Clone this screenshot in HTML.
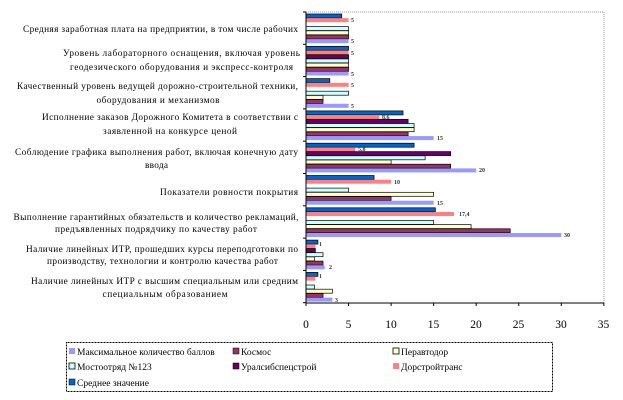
<!DOCTYPE html>
<html><head><meta charset="utf-8"><style>
html,body{margin:0;padding:0;background:#fff;width:623px;height:400px;overflow:hidden}
svg text{font-family:"Liberation Serif","DejaVu Serif",serif}
.c{font-size:9.3px;fill:#000}
.d{font-size:6px;fill:#333;font-weight:bold}
.t{font-size:11.5px;fill:#000}
.l{font-size:9.5px;fill:#000}
</style></head><body>
<svg id="s" width="623" height="400" xmlns="http://www.w3.org/2000/svg">
<rect x="306" y="12" width="298" height="291" fill="#fff" stroke="#999" stroke-dasharray="1,1"/>
<g id="bars"></g>
<line x1="306" y1="12" x2="306" y2="303" stroke="#000"/>
<line x1="306" y1="303" x2="604" y2="303" stroke="#000"/>
<g id="ticks" stroke="#000"></g>
<g class="c" text-anchor="middle" lengthAdjust="spacingAndGlyphs">
<text x="160.5" y="32" textLength="275">Средняя заработная плата на предприятии, в том  числе рабочих</text>
<text x="181.5" y="56" textLength="237">Уровень лабораторного оснащения, включая уровень</text>
<text x="181.5" y="70" textLength="223">геодезического оборудования и экспресс-контроля</text>
<text x="157.5" y="89" textLength="281">Качественный уровень ведущей дорожно-строительной техники,</text>
<text x="158" y="103" textLength="123">оборудования и механизмов</text>
<text x="170" y="120" textLength="256">Исполнение заказов Дорожного Комитета в соответствии с</text>
<text x="170" y="134" textLength="134">заявленной на конкурсе ценой</text>
<text x="156.5" y="155" textLength="283">Соблюдение графика выполнения работ, включая конечную дату</text>
<text x="156.5" y="168" textLength="23">ввода</text>
<text x="229" y="195" textLength="138">Показатели ровности  покрытия</text>
<text x="156" y="220" textLength="285">Выполнение гарантийных обязательств и количество рекламаций,</text>
<text x="156" y="232" textLength="202">предъявленных подрядчику по качеству работ</text>
<text x="162" y="252" textLength="272">Наличие линейных ИТР, прошедших курсы переподготовки по</text>
<text x="162.5" y="264" textLength="231">производству, технологии и контролю качества работ</text>
<text x="164.5" y="284" textLength="267">Наличие линейных ИТР с высшим специальным или средним</text>
<text x="165" y="297" textLength="125">специальным образованием</text>
</g>
<g class="d">
<text x="351" y="22">5</text><text x="351" y="43">5</text>
<text x="351" y="55">5</text><text x="351" y="76">5</text>
<text x="351" y="87">5</text><text x="351" y="108">5</text>
<text x="382" y="119">8,6</text><text x="437" y="140">15</text>
<text x="358" y="151">5,8</text><text x="479" y="172">20</text>
<text x="394" y="184">10</text><text x="437" y="205">15</text>
<text x="459" y="216">17,4</text><text x="564" y="237">30</text>
<text x="319" y="246">1</text><text x="329" y="269">2</text>
<text x="319" y="278">1</text><text x="335" y="302">3</text>
</g>
<g class="t" text-anchor="middle">
<text x="306" y="328">0</text><text x="348.5" y="328">5</text><text x="391" y="328">10</text><text x="433.5" y="328">15</text><text x="476" y="328">20</text><text x="518.5" y="328">25</text><text x="561" y="328">30</text><text x="603.5" y="328">35</text>
</g>
<rect x="66.5" y="342.5" width="486" height="49" fill="#fff" stroke="#000" stroke-dasharray="1,0.5"/>
<g class="l">
<rect x="69" y="348" width="6" height="6" fill="#9999ff"/><text x="77" y="355">Максимальное количество баллов</text>
<rect x="233" y="348" width="6" height="6" fill="#993366" stroke="#000" stroke-width="0.5"/><text x="241" y="355">Космос</text>
<rect x="393" y="348" width="6" height="6" fill="#ffffcc" stroke="#000" stroke-width="0.8"/><text x="401" y="355">Перавтодор</text>
<rect x="69" y="363" width="6" height="6" fill="#ccffff" stroke="#000" stroke-width="0.8"/><text x="77" y="370">Мостоотряд №123</text>
<rect x="233" y="363" width="6" height="6" fill="#660066" stroke="#000" stroke-width="0.5"/><text x="241" y="370">Уралсибспецстрой</text>
<rect x="393" y="363" width="6" height="6" fill="#ff8080"/><text x="401" y="370">Дорстройтранс</text>
<rect x="69" y="379" width="6" height="6" fill="#0066cc" stroke="#000" stroke-width="0.5"/><text x="77" y="386">Среднее значение</text>
</g>
</svg>
<script>
(function(){
var data=[
[4.2,5,0,5,5,5,5],
[5,5,5,5,5,5,5],
[2.8,5,0,5,2,2,5],
[11.4,8.6,12,12.7,12.7,12,15],
[12.7,5.8,17,14,10,17,20],
[8,10,0,5,15,10,15],
[15.2,17.4,0,15,19.4,24,30],
[1.4,1.1,1.1,2,1,2,2.2],
[1.4,1.1,0,1,3.1,2,3.1]];
var col=["#0066cc","#ff8080","#660066","#ccffff","#ffffcc","#993366","#9999ff"];
var str=[1,0,1,1,1,1,0];
var ns="http://www.w3.org/2000/svg",g=document.getElementById("bars"),tk=document.getElementById("ticks");
for(var i=0;i<9;i++){var yy=12+i*32.3;
for(var j=0;j<7;j++){var v=data[i][j];if(!v)continue;
var r=document.createElementNS(ns,"rect");
r.setAttribute("x",306);r.setAttribute("y",yy+2+j*4.2);r.setAttribute("width",v*8.51);r.setAttribute("height",4);
r.setAttribute("fill",col[j]);if(str[j]){r.setAttribute("stroke","#000");r.setAttribute("stroke-width","0.7");}
g.appendChild(r);}}
for(var i=0;i<=9;i++){var l=document.createElementNS(ns,"line");var y=12+i*32.3;
l.setAttribute("x1",303);l.setAttribute("x2",306);l.setAttribute("y1",y);l.setAttribute("y2",y);tk.appendChild(l);}
for(var i=0;i<=7;i++){var l=document.createElementNS(ns,"line");var x=306+i*42.55;
l.setAttribute("x1",x);l.setAttribute("x2",x);l.setAttribute("y1",303);l.setAttribute("y2",306);tk.appendChild(l);}
})();
</script>
</body></html>
